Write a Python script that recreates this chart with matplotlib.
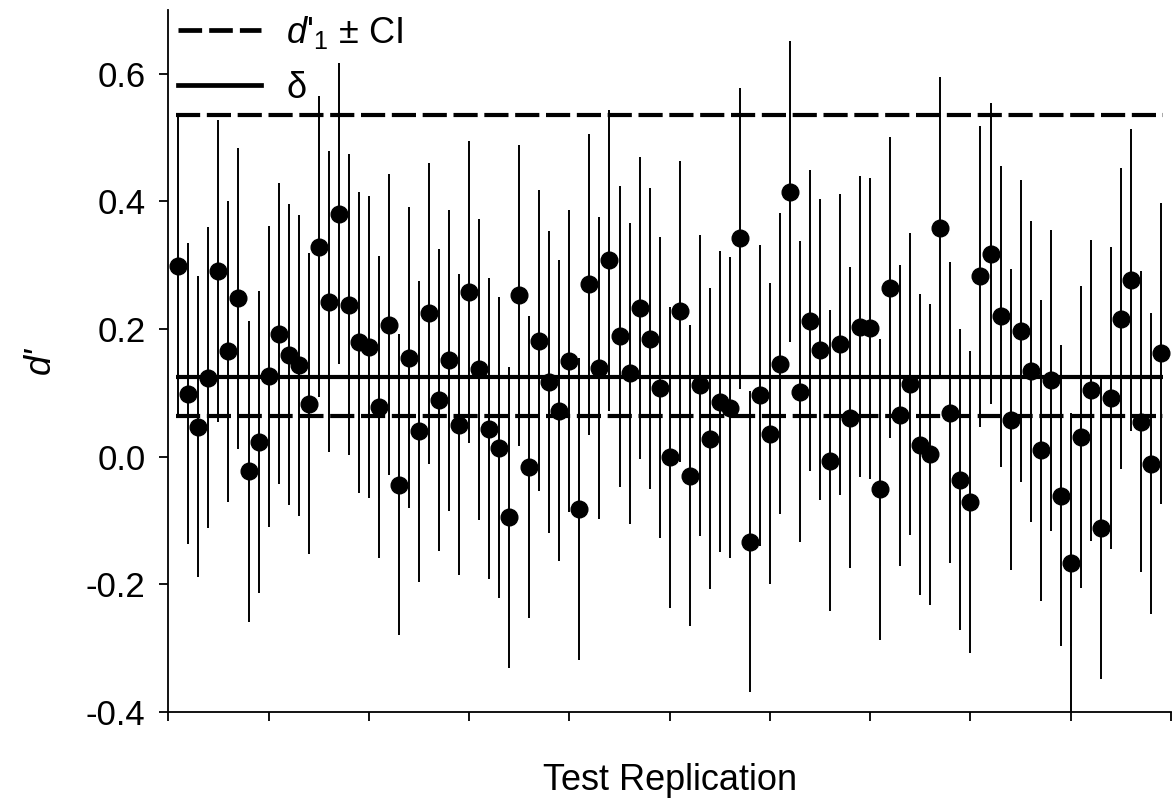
import matplotlib
matplotlib.use("Agg")
import matplotlib.pyplot as plt
from matplotlib.lines import Line2D
import numpy as np

plt.rcParams['font.family'] = ['Liberation Sans', 'DejaVu Sans']
plt.rcParams['axes.unicode_minus'] = False
plt.rcParams['mathtext.fontset'] = 'custom'
plt.rcParams['mathtext.rm'] = 'Liberation Sans'
plt.rcParams['mathtext.it'] = 'Liberation Sans:italic'

# ---- data ----
replication = list(range(1, 100))
d_prime = [
    0.299, 0.099, 0.047, 0.124, 0.291, 0.165, 0.248, -0.023, 0.023, 0.126,
    0.193, 0.160, 0.143, 0.083, 0.329, 0.243, 0.381, 0.238, 0.179, 0.172,
    0.078, 0.207, -0.044, 0.155, 0.040, 0.225, 0.089, 0.151, 0.050, 0.258,
    0.137, 0.044, 0.014, -0.095, 0.253, -0.016, 0.182, 0.117, 0.072, 0.150,
    -0.082, 0.270, 0.139, 0.308, 0.189, 0.131, 0.233, 0.185, 0.108, -0.001,
    0.228, -0.030, 0.112, 0.028, 0.086, 0.077, 0.342, -0.133, 0.096, 0.036,
    0.146, 0.415, 0.102, 0.213, 0.168, -0.006, 0.176, 0.061, 0.204, 0.201,
    -0.051, 0.265, 0.065, 0.114, 0.019, 0.004, 0.359, 0.069, -0.036, -0.071,
    0.283, 0.318, 0.220, 0.058, 0.197, 0.134, 0.010, 0.120, -0.061, -0.167,
    0.031, 0.104, -0.112, 0.092, 0.216, 0.277, 0.055, -0.011, 0.162,
]
ci_halfwidth = 0.236          # same CI half-width for every replication
delta = 0.125                 # true effect (solid line)
d1_ci_lower = 0.064           # d'1 - CI (dashed)
d1_ci_upper = 0.535           # d'1 + CI (dashed)

y_ticks = [-0.4, -0.2, 0.0, 0.2, 0.4, 0.6]
x_ticks = list(range(0, 101, 10))

# ---- figure ----
fig = plt.figure(figsize=(11.73, 8.08), dpi=100)
ax = fig.add_axes([168.3 / 1173, 96 / 808, (1171 - 168.3) / 1173, (712 - 10) / 808])

x = np.array(replication)
y = np.array(d_prime)
ax.vlines(x, y - ci_halfwidth, y + ci_halfwidth, color='black', lw=1.4, zorder=2)

line_kw = dict(color='black', lw=3.0, zorder=3)
ax.hlines([d1_ci_upper, d1_ci_lower], 0.8, 99.2, linestyles=[(0, (5.8, 1.6))], **line_kw)
ax.hlines(delta, 0.8, 99.2, **line_kw)
ax.plot(x, y, 'o', color='black', ms=12, zorder=4)

ax.set_xlim(0, 100)
ax.set_ylim(-0.4, 0.7)
ax.set_yticks(y_ticks)
ax.set_yticklabels([f"{v:.1f}" for v in y_ticks])
ax.set_xticks(x_ticks)
ax.set_xticklabels([])
for s in ['top', 'right']:
    ax.spines[s].set_visible(False)
for s in ['left', 'bottom']:
    ax.spines[s].set_linewidth(1.3)
ax.tick_params(axis='both', direction='out', length=6.5, width=1.3, labelsize=25, pad=10)

ax.set_xlabel('Test Replication', fontsize=26, labelpad=20)
ax.set_ylabel("d'", fontsize=26, style='italic', labelpad=20)

handles = [Line2D([], [], color='black', lw=3.4, dashes=(5.0, 1.5)),
           Line2D([], [], color='black', lw=3.4)]
labels = [r"$d$'$_1$ ± CI", "δ"]
leg = fig.legend(handles, labels, loc='upper left', bbox_to_anchor=(178 / 1173, 1 - 14 / 808),
                 frameon=False, fontsize=26, handlelength=2.3, handletextpad=0.7,
                 borderpad=0, borderaxespad=0, labelspacing=0.55)

fig.savefig('out.png', dpi=100)
